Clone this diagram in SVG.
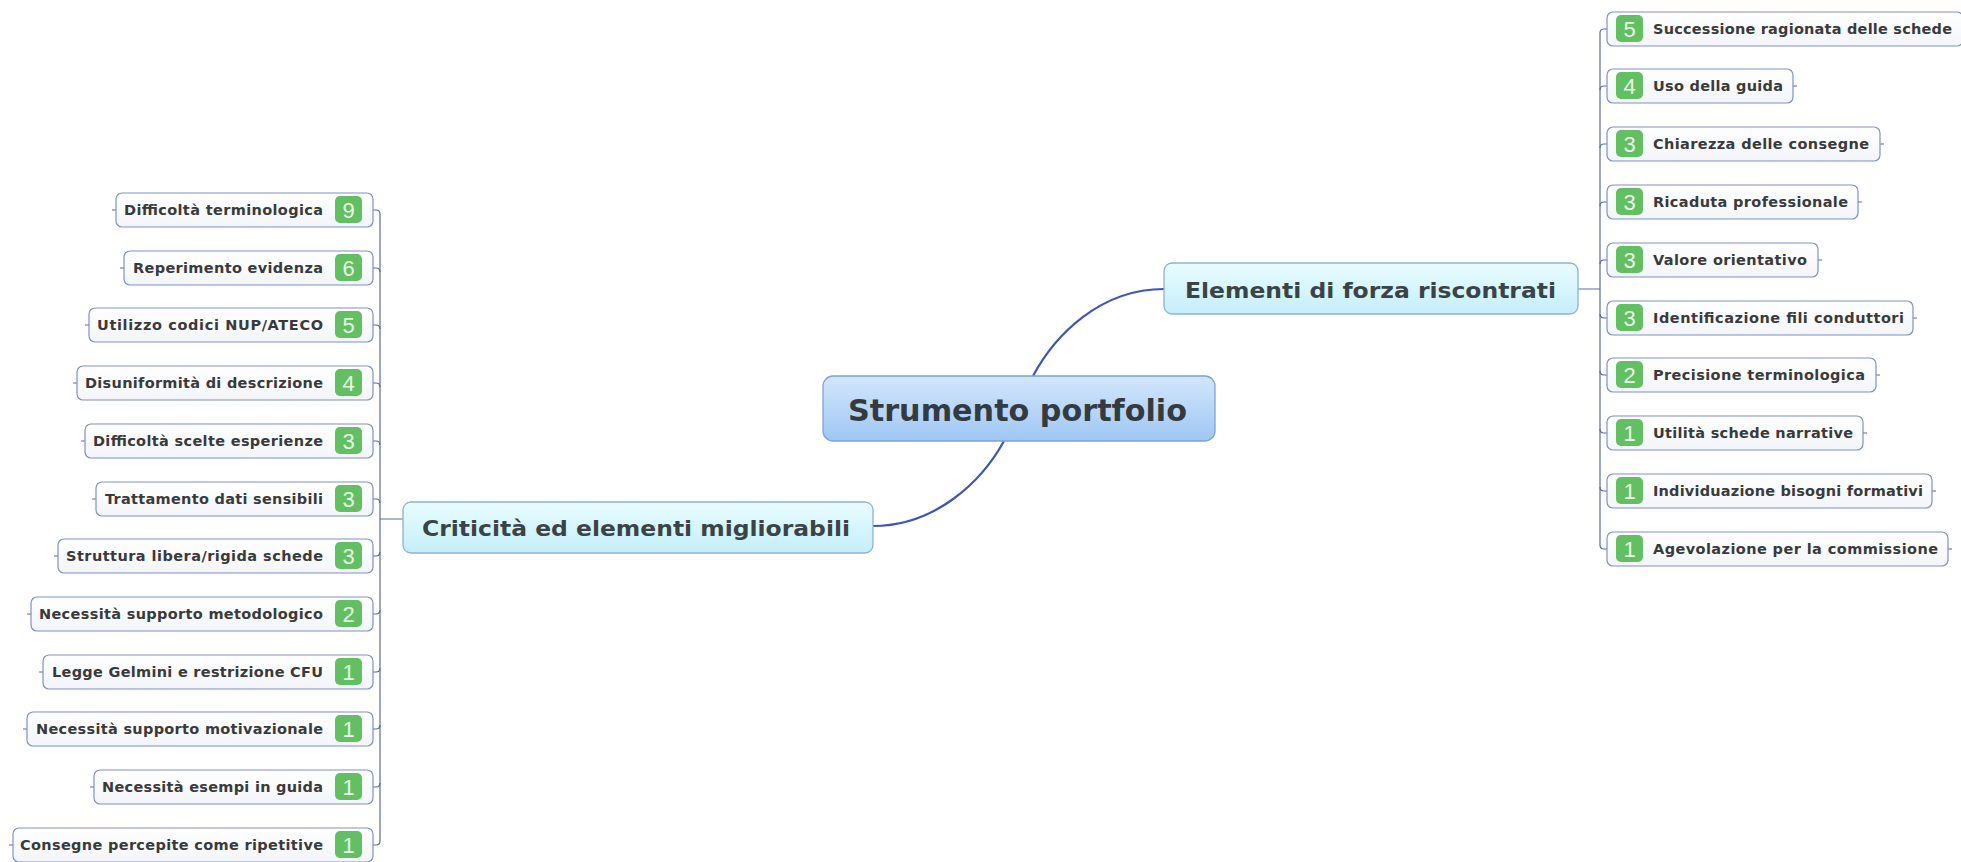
<svg xmlns="http://www.w3.org/2000/svg" width="1961" height="862" viewBox="0 0 1961 862">
  <defs>
    <linearGradient id="gCenter" x1="0" y1="0" x2="0" y2="1">
      <stop offset="0" stop-color="#d3e6fc"/>
      <stop offset="1" stop-color="#9fc7f4"/>
    </linearGradient>
    <linearGradient id="gMain" x1="0" y1="0" x2="0" y2="1">
      <stop offset="0" stop-color="#e9fdff"/>
      <stop offset="1" stop-color="#c4eefa"/>
    </linearGradient>
    <linearGradient id="gLeaf" x1="0" y1="0" x2="0" y2="1">
      <stop offset="0" stop-color="#ffffff"/>
      <stop offset="1" stop-color="#f3f5fa"/>
    </linearGradient>
    <style>
      .center { fill: url(#gCenter); stroke: #7ea3d6; stroke-width: 1.3; }
      .main { fill: url(#gMain); stroke: #8eb0d4; stroke-width: 1.3; }
      .leaf { fill: url(#gLeaf); stroke: #7f90c8; stroke-width: 1.2; }
      .badge { fill: #62bf62; }
      .num { font-family: "Liberation Sans", Arial, sans-serif; font-size: 22px; fill: #e8f6e8; text-anchor: middle; }
      .t0 { font-family: "DejaVu Sans", Verdana, sans-serif; font-weight: bold; font-size: 31px; fill: #333a40; }
      .t1 { font-family: "DejaVu Sans", Verdana, sans-serif; font-weight: bold; font-size: 21.5px; fill: #3a4346; }
      .t2 { font-family: "DejaVu Sans", Verdana, sans-serif; font-weight: bold; font-size: 14.5px; fill: #3a3a3a; }
      .curve { fill: none; stroke: #3e55b8; stroke-width: 2.2; }
      .line { fill: none; stroke: #5a6a9e; stroke-width: 1.2; }
    </style>
  </defs>

  <!-- connectors -->
  <g id="connectors">
    <path class="curve" d="M1033,376 C1055,335 1100,289 1164,289"/>
    <path class="curve" d="M1004,441 C982,481 936,526 873,526"/>
    <!-- right trunk -->
    <path class="line" d="M1578,289 H1600 M1600,33 V545"/>
    <path class="line" d="M1607,29 H1604 Q1600,29 1600,33"/>
    <path class="line" d="M1607,86 H1604 Q1600,86 1600,90"/>
    <path class="line" d="M1607,144 H1604 Q1600,144 1600,148"/>
    <path class="line" d="M1607,202 H1604 Q1600,202 1600,206"/>
    <path class="line" d="M1607,260 H1604 Q1600,260 1600,264"/>
    <path class="line" d="M1607,318 H1604 Q1600,318 1600,314"/>
    <path class="line" d="M1607,375 H1604 Q1600,375 1600,371"/>
    <path class="line" d="M1607,433 H1604 Q1600,433 1600,429"/>
    <path class="line" d="M1607,491 H1604 Q1600,491 1600,487"/>
    <path class="line" d="M1607,549 H1604 Q1600,549 1600,545"/>
    <!-- right outer ticks -->
    <path class="line" d="M1793,86 H1797 M1880,144 H1884 M1858,202 H1862 M1818,260 H1822 M1913,318 H1917 M1876,375 H1880 M1863,433 H1867 M1932,491 H1936 M1948,549 H1952"/>
    <!-- left trunk -->
    <path class="line" d="M403,519 H380 M380,214 V841"/>
    <path class="line" d="M373,210 H376 Q380,210 380,214"/>
    <path class="line" d="M373,268 H376 Q380,268 380,272"/>
    <path class="line" d="M373,325 H376 Q380,325 380,329"/>
    <path class="line" d="M373,383 H376 Q380,383 380,387"/>
    <path class="line" d="M373,441 H376 Q380,441 380,445"/>
    <path class="line" d="M373,499 H376 Q380,499 380,503"/>
    <path class="line" d="M373,556 H376 Q380,556 380,552"/>
    <path class="line" d="M373,614 H376 Q380,614 380,610"/>
    <path class="line" d="M373,672 H376 Q380,672 380,668"/>
    <path class="line" d="M373,729 H376 Q380,729 380,725"/>
    <path class="line" d="M373,787 H376 Q380,787 380,783"/>
    <path class="line" d="M373,845 H376 Q380,845 380,841"/>
    <!-- left outer ticks -->
    <path class="line" d="M112,210 H116 M120,268 H124 M85,325 H89 M73,383 H77 M81,441 H85 M92,499 H96 M54,556 H58 M27,614 H31 M39,672 H43 M23,729 H27 M90,787 H94 M9,845 H13"/>
  </g>

  <!-- central topic -->
  <g id="node-center">
    <rect class="center" x="823" y="376" width="392" height="65" rx="10"/>
    <text class="t0" x="848" y="421" textLength="339" lengthAdjust="spacingAndGlyphs">Strumento portfolio</text>
  </g>

  <!-- main branches -->
  <g id="node-forza">
    <rect class="main" x="1164" y="263" width="414" height="51" rx="8"/>
    <text class="t1" x="1185" y="298" textLength="371" lengthAdjust="spacingAndGlyphs">Elementi di forza riscontrati</text>
  </g>
  <g id="node-criticita">
    <rect class="main" x="403" y="502" width="470" height="51" rx="8"/>
    <text class="t1" x="422" y="536" textLength="428" lengthAdjust="spacingAndGlyphs">Criticità ed elementi migliorabili</text>
  </g>

  <!-- strengths -->
  <g id="node-r1">
    <rect class="leaf" x="1607" y="12" width="356" height="34" rx="6"/>
    <rect class="badge" x="1616" y="15" width="27" height="27" rx="5"/>
    <text class="num" x="1629.5" y="36.5">5</text>
    <text class="t2" x="1653" y="34" textLength="299" lengthAdjust="spacing">Successione ragionata delle schede</text>
  </g>
  <g id="node-r2">
    <rect class="leaf" x="1607" y="69" width="186" height="34" rx="6"/>
    <rect class="badge" x="1616" y="72" width="27" height="27" rx="5"/>
    <text class="num" x="1629.5" y="93.5">4</text>
    <text class="t2" x="1653" y="91" textLength="130" lengthAdjust="spacing">Uso della guida</text>
  </g>
  <g id="node-r3">
    <rect class="leaf" x="1607" y="127" width="273" height="34" rx="6"/>
    <rect class="badge" x="1616" y="130" width="27" height="27" rx="5"/>
    <text class="num" x="1629.5" y="151.5">3</text>
    <text class="t2" x="1653" y="149" textLength="216" lengthAdjust="spacing">Chiarezza delle consegne</text>
  </g>
  <g id="node-r4">
    <rect class="leaf" x="1607" y="185" width="251" height="34" rx="6"/>
    <rect class="badge" x="1616" y="188" width="27" height="27" rx="5"/>
    <text class="num" x="1629.5" y="209.5">3</text>
    <text class="t2" x="1653" y="207" textLength="195" lengthAdjust="spacing">Ricaduta professionale</text>
  </g>
  <g id="node-r5">
    <rect class="leaf" x="1607" y="243" width="211" height="34" rx="6"/>
    <rect class="badge" x="1616" y="246" width="27" height="27" rx="5"/>
    <text class="num" x="1629.5" y="267.5">3</text>
    <text class="t2" x="1653" y="265" textLength="154" lengthAdjust="spacing">Valore orientativo</text>
  </g>
  <g id="node-r6">
    <rect class="leaf" x="1607" y="301" width="306" height="34" rx="6"/>
    <rect class="badge" x="1616" y="304" width="27" height="27" rx="5"/>
    <text class="num" x="1629.5" y="325.5">3</text>
    <text class="t2" x="1653" y="323" textLength="251" lengthAdjust="spacing">Identificazione fili conduttori</text>
  </g>
  <g id="node-r7">
    <rect class="leaf" x="1607" y="358" width="269" height="34" rx="6"/>
    <rect class="badge" x="1616" y="361" width="27" height="27" rx="5"/>
    <text class="num" x="1629.5" y="382.5">2</text>
    <text class="t2" x="1653" y="380" textLength="212" lengthAdjust="spacing">Precisione terminologica</text>
  </g>
  <g id="node-r8">
    <rect class="leaf" x="1607" y="416" width="256" height="34" rx="6"/>
    <rect class="badge" x="1616" y="419" width="27" height="27" rx="5"/>
    <text class="num" x="1629.5" y="440.5">1</text>
    <text class="t2" x="1653" y="438" textLength="200" lengthAdjust="spacing">Utilità schede narrative</text>
  </g>
  <g id="node-r9">
    <rect class="leaf" x="1607" y="474" width="325" height="34" rx="6"/>
    <rect class="badge" x="1616" y="477" width="27" height="27" rx="5"/>
    <text class="num" x="1629.5" y="498.5">1</text>
    <text class="t2" x="1653" y="496" textLength="270" lengthAdjust="spacing">Individuazione bisogni formativi</text>
  </g>
  <g id="node-r10">
    <rect class="leaf" x="1607" y="532" width="341" height="34" rx="6"/>
    <rect class="badge" x="1616" y="535" width="27" height="27" rx="5"/>
    <text class="num" x="1629.5" y="556.5">1</text>
    <text class="t2" x="1653" y="554" textLength="285" lengthAdjust="spacing">Agevolazione per la commissione</text>
  </g>

  <!-- weaknesses -->
  <g id="node-l1">
    <rect class="leaf" x="116" y="193" width="257" height="34" rx="6"/>
    <rect class="badge" x="335" y="196" width="27" height="27" rx="5"/>
    <text class="num" x="348.5" y="217.5">9</text>
    <text class="t2" x="124" y="215" textLength="199" lengthAdjust="spacing">Difficoltà terminologica</text>
  </g>
  <g id="node-l2">
    <rect class="leaf" x="124" y="251" width="249" height="34" rx="6"/>
    <rect class="badge" x="335" y="254" width="27" height="27" rx="5"/>
    <text class="num" x="348.5" y="275.5">6</text>
    <text class="t2" x="133" y="273" textLength="190" lengthAdjust="spacing">Reperimento evidenza</text>
  </g>
  <g id="node-l3">
    <rect class="leaf" x="89" y="308" width="284" height="34" rx="6"/>
    <rect class="badge" x="335" y="311" width="27" height="27" rx="5"/>
    <text class="num" x="348.5" y="332.5">5</text>
    <text class="t2" x="97" y="330" textLength="226" lengthAdjust="spacing">Utilizzo codici NUP/ATECO</text>
  </g>
  <g id="node-l4">
    <rect class="leaf" x="77" y="366" width="296" height="34" rx="6"/>
    <rect class="badge" x="335" y="369" width="27" height="27" rx="5"/>
    <text class="num" x="348.5" y="390.5">4</text>
    <text class="t2" x="85" y="388" textLength="238" lengthAdjust="spacing">Disuniformità di descrizione</text>
  </g>
  <g id="node-l5">
    <rect class="leaf" x="85" y="424" width="288" height="34" rx="6"/>
    <rect class="badge" x="335" y="427" width="27" height="27" rx="5"/>
    <text class="num" x="348.5" y="448.5">3</text>
    <text class="t2" x="93" y="446" textLength="230" lengthAdjust="spacing">Difficoltà scelte esperienze</text>
  </g>
  <g id="node-l6">
    <rect class="leaf" x="96" y="482" width="277" height="34" rx="6"/>
    <rect class="badge" x="335" y="485" width="27" height="27" rx="5"/>
    <text class="num" x="348.5" y="506.5">3</text>
    <text class="t2" x="105" y="504" textLength="218" lengthAdjust="spacing">Trattamento dati sensibili</text>
  </g>
  <g id="node-l7">
    <rect class="leaf" x="58" y="539" width="315" height="34" rx="6"/>
    <rect class="badge" x="335" y="542" width="27" height="27" rx="5"/>
    <text class="num" x="348.5" y="563.5">3</text>
    <text class="t2" x="66" y="561" textLength="257" lengthAdjust="spacing">Struttura libera/rigida schede</text>
  </g>
  <g id="node-l8">
    <rect class="leaf" x="31" y="597" width="342" height="34" rx="6"/>
    <rect class="badge" x="335" y="600" width="27" height="27" rx="5"/>
    <text class="num" x="348.5" y="621.5">2</text>
    <text class="t2" x="39" y="619" textLength="284" lengthAdjust="spacing">Necessità supporto metodologico</text>
  </g>
  <g id="node-l9">
    <rect class="leaf" x="43" y="655" width="330" height="34" rx="6"/>
    <rect class="badge" x="335" y="658" width="27" height="27" rx="5"/>
    <text class="num" x="348.5" y="679.5">1</text>
    <text class="t2" x="52" y="677" textLength="271" lengthAdjust="spacing">Legge Gelmini e restrizione CFU</text>
  </g>
  <g id="node-l10">
    <rect class="leaf" x="27" y="712" width="346" height="34" rx="6"/>
    <rect class="badge" x="335" y="715" width="27" height="27" rx="5"/>
    <text class="num" x="348.5" y="736.5">1</text>
    <text class="t2" x="36" y="734" textLength="287" lengthAdjust="spacing">Necessità supporto motivazionale</text>
  </g>
  <g id="node-l11">
    <rect class="leaf" x="94" y="770" width="279" height="34" rx="6"/>
    <rect class="badge" x="335" y="773" width="27" height="27" rx="5"/>
    <text class="num" x="348.5" y="794.5">1</text>
    <text class="t2" x="102" y="792" textLength="221" lengthAdjust="spacing">Necessità esempi in guida</text>
  </g>
  <g id="node-l12">
    <rect class="leaf" x="13" y="828" width="360" height="34" rx="6"/>
    <rect class="badge" x="335" y="831" width="27" height="27" rx="5"/>
    <text class="num" x="348.5" y="852.5">1</text>
    <text class="t2" x="20" y="850" textLength="303" lengthAdjust="spacing">Consegne percepite come ripetitive</text>
  </g>
</svg>
